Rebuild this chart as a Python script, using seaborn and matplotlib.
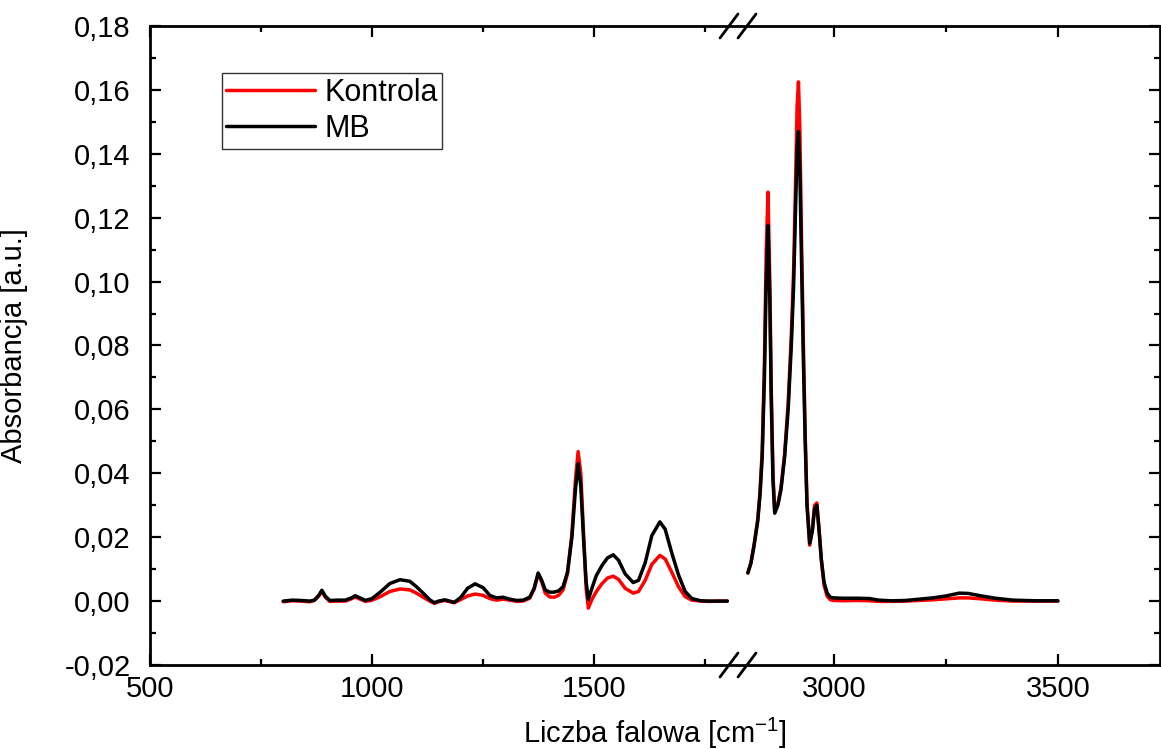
import pandas as pd
import seaborn as sns
import matplotlib.pyplot as plt
from matplotlib.lines import Line2D
from matplotlib.ticker import MultipleLocator, FixedLocator, FixedFormatter

# 1) Data (wavenumber in cm^-1, absorbance in a.u.)
wn_low = [800, 820, 840, 860, 870, 880, 887, 895, 905, 920, 940, 955, 962, 970, 985,
          1000, 1020, 1040, 1063, 1085, 1100, 1115, 1130, 1140, 1150, 1164, 1175, 1185,
          1200, 1215, 1232, 1250, 1265, 1280, 1295, 1310, 1326, 1340, 1355, 1365, 1374,
          1382, 1390, 1400, 1410, 1420, 1430, 1440, 1450, 1458, 1464, 1470, 1476, 1482,
          1487, 1495, 1505, 1518, 1530, 1543, 1555, 1570, 1588, 1600, 1615, 1630, 1648,
          1660, 1675, 1690, 1705, 1720, 1740, 1760, 1780, 1800]
kontrola_low = [-0.0002, 0.0001, 0.0, -0.0002, 0.0002, 0.0016, 0.0030, 0.0012, -0.0001, 0.0, 0.0, 0.0008, 0.0013, 0.0008, -0.0001,
                0.0003, 0.0015, 0.0030, 0.0038, 0.0035, 0.0025, 0.0012, 0.0, -0.0007, -0.0002, 0.0002, -0.0002, -0.0005,
                0.0005, 0.0016, 0.0022, 0.0018, 0.0008, 0.0003, 0.0006, 0.0003, -0.0001, 0.0, 0.0009, 0.0038, 0.0085,
                0.0060, 0.0025, 0.0013, 0.0012, 0.0018, 0.0035, 0.0085, 0.0210, 0.0380, 0.0468, 0.0400, 0.0220, 0.0040,
                -0.0022, 0.0005, 0.0030, 0.0055, 0.0072, 0.0078, 0.0068, 0.0040, 0.0025, 0.0030, 0.0065, 0.0115, 0.0143,
                0.0132, 0.0090, 0.0045, 0.0014, 0.0003, 0.0, -0.0001, 0.0, 0.0]
mb_low = [0.0, 0.0003, 0.0002, 0.0, 0.0003, 0.0018, 0.0034, 0.0015, 0.0002, 0.0003, 0.0003, 0.0011, 0.0017, 0.0012, 0.0002,
          0.0008, 0.0030, 0.0055, 0.0067, 0.0062, 0.0045, 0.0025, 0.0004, -0.0005, 0.0, 0.0004, 0.0, -0.0004,
          0.0012, 0.0040, 0.0054, 0.0042, 0.0018, 0.0010, 0.0012, 0.0006, 0.0002, 0.0003, 0.0012, 0.0040, 0.0088,
          0.0065, 0.0035, 0.0028, 0.0028, 0.0032, 0.0045, 0.0090, 0.0200, 0.0350, 0.0430, 0.0360, 0.0200, 0.0060,
          0.0005, 0.0040, 0.0080, 0.0112, 0.0135, 0.0145, 0.0128, 0.0085, 0.0058, 0.0065, 0.0120, 0.0205, 0.0248,
          0.0225, 0.0150, 0.0082, 0.0030, 0.0008, 0.0001, 0.0, 0.0, 0.0]

wn_high = [2808, 2815, 2822, 2830, 2835, 2840, 2845, 2849, 2853, 2857, 2860, 2864, 2868, 2875,
           2882, 2890, 2898, 2905, 2910, 2914, 2918, 2921, 2924, 2928, 2932, 2936, 2940, 2946,
           2952, 2957, 2962, 2967, 2972, 2978, 2985, 2992, 3000, 3020, 3050, 3080, 3100, 3130,
           3160, 3190, 3220, 3250, 3280, 3300, 3330, 3360, 3400, 3450, 3500]
kontrola_high = [0.0088, 0.0120, 0.0178, 0.0255, 0.0340, 0.0470, 0.0750, 0.1100, 0.1280, 0.1000, 0.0680, 0.0400, 0.0280, 0.0305,
                 0.0355, 0.0460, 0.0620, 0.0830, 0.1030, 0.1280, 0.1550, 0.1625, 0.1480, 0.1120, 0.0800, 0.0520, 0.0310, 0.0175,
                 0.0225, 0.0300, 0.0307, 0.0225, 0.0130, 0.0050, 0.0015, 0.0004, 0.0002, 0.0001, 0.0002, 0.0001, -0.0001, -0.0001,
                 0.0, 0.0002, 0.0004, 0.0007, 0.0010, 0.0010, 0.0007, 0.0003, 0.0, 0.0, 0.0]
mb_high = [0.0088, 0.0120, 0.0175, 0.0250, 0.0330, 0.0450, 0.0700, 0.1000, 0.1175, 0.0950, 0.0650, 0.0380, 0.0275, 0.0300,
           0.0350, 0.0450, 0.0600, 0.0800, 0.0980, 0.1200, 0.1420, 0.1470, 0.1350, 0.1050, 0.0750, 0.0500, 0.0300, 0.0180,
           0.0220, 0.0290, 0.0300, 0.0220, 0.0130, 0.0060, 0.0025, 0.0012, 0.0010, 0.0009, 0.0009, 0.0008, 0.0003, 0.0001,
           0.0002, 0.0006, 0.0010, 0.0016, 0.0025, 0.0024, 0.0016, 0.0009, 0.0003, 0.0001, 0.0001]

samples = ["Kontrola", "MB"]
y_ticks = [-0.02, 0.0, 0.02, 0.04, 0.06, 0.08, 0.10, 0.12, 0.14, 0.16, 0.18]
y_tick_labels = ["-0,02", "0,00", "0,02", "0,04", "0,06", "0,08", "0,10", "0,12", "0,14", "0,16", "0,18"]


def long_df(wn, kontrola, mb):
    return pd.concat([
        pd.DataFrame({"wn": wn, "abs": kontrola, "sample": "Kontrola"}),
        pd.DataFrame({"wn": wn, "abs": mb, "sample": "MB"}),
    ], ignore_index=True)


df_low = long_df(wn_low, kontrola_low, mb_low)
df_high = long_df(wn_high, kontrola_high, mb_high)

# 2) Style
sns.set_theme(style="ticks")
plt.rcParams["font.family"] = ["Liberation Sans", "DejaVu Sans"]
plt.rcParams["mathtext.fontset"] = "custom"
plt.rcParams["mathtext.rm"] = "Liberation Sans"
plt.rcParams["text.color"] = "black"
plt.rcParams["axes.labelcolor"] = "black"
plt.rcParams["axes.edgecolor"] = "black"
FS = 21
colors = {"Kontrola": "#ff0000", "MB": "#000000"}

W, H = 1161, 749
fig = plt.figure(figsize=(W / 100, H / 100), dpi=100)
bottom, top = 1 - 665 / H, 1 - 26 / H
ax1 = fig.add_axes([150 / W, bottom, 588 / W, top - bottom])
ax2 = fig.add_axes([738 / W, bottom, 422 / W, top - bottom])

for ax, df in [(ax1, df_low), (ax2, df_high)]:
    sns.lineplot(data=df, x="wn", y="abs", hue="sample", hue_order=samples,
                 palette=colors, estimator=None, sort=False, lw=2.5,
                 ax=ax, legend=(ax is ax1))
    ax.set_ylim(-0.02, 0.18)
    ax.set_xlabel("")
    ax.set_ylabel("")
    ax.xaxis.set_major_locator(MultipleLocator(500))
    ax.xaxis.set_minor_locator(MultipleLocator(250))
    ax.yaxis.set_major_locator(FixedLocator(y_ticks))
    ax.yaxis.set_major_formatter(FixedFormatter(y_tick_labels))
    ax.yaxis.set_minor_locator(MultipleLocator(0.01))
    for s in ax.spines.values():
        s.set_linewidth(2.0)
        s.set_color("black")
    ax.tick_params(which="both", direction="in", top=True, bottom=True,
                   width=1.6, labelsize=FS, colors="black")
    ax.tick_params(which="major", length=8)
    ax.tick_params(which="minor", length=4.5)
    ax.tick_params(axis="x", pad=7)

ax1.set_xlim(500, 1824)
ax2.set_xlim(2786, 3728)

ax1.spines["right"].set_visible(False)
ax1.tick_params(axis="y", which="both", left=True, right=False, pad=14)
ax2.spines["left"].set_visible(False)
ax2.tick_params(axis="y", which="both", left=False, right=True, labelleft=False)

ax1.set_ylabel("Absorbancja [a.u.]", fontsize=FS, color="black")
ax1.yaxis.set_label_coords((28 - 150) / 588, 0.5)
fig.text(655 / W, 1 - 733 / H, r"Liczba falowa [cm$^{\mathrm{-1}}$]",
         fontsize=FS, ha="center", va="center", color="black")

leg = ax1.legend(title=None, loc="upper left", bbox_to_anchor=(0.122, 0.926),
                 borderaxespad=0, fontsize=FS + 1, frameon=True, fancybox=False,
                 edgecolor="#333333", framealpha=1, borderpad=0.15,
                 handlelength=2.9, handletextpad=0.3, labelspacing=0.2,
                 labelcolor="black")
leg.get_frame().set_linewidth(1.0)
for line in leg.get_lines():
    line.set_linewidth(2.5)

# 3) Axis break marks
for yc in (26, 665):
    for xc in (729, 747):
        fig.add_artist(Line2D([(xc - 9) / W, (xc + 9) / W],
                              [1 - (yc + 12) / H, 1 - (yc - 12) / H],
                              transform=fig.transFigure, color="black", lw=2.0,
                              clip_on=False))

fig.savefig("out.png", dpi=100)
